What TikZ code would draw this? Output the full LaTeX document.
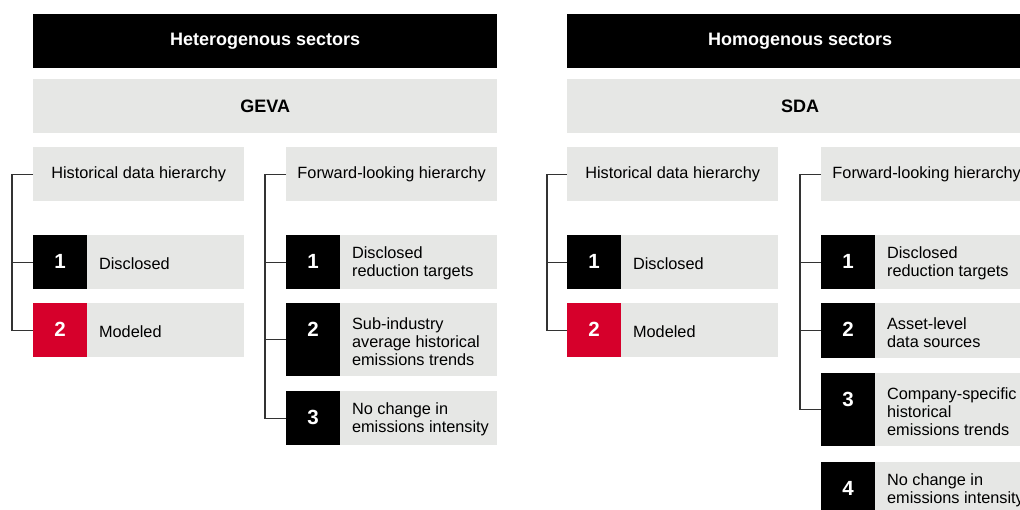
\documentclass[tikz,border=0pt]{standalone}
\usepackage{fontspec}
\setmainfont{Liberation Sans}
\definecolor{boxgray}{HTML}{E6E7E5}
\definecolor{numred}{HTML}{D6002B}
\definecolor{linegray}{HTML}{333333}
\newcommand\hitem[7]{% name, x, y, height, square colour, number, text
  \node[itembg, minimum height=#4pt] (#1) at (#2,#3) {};
  \node[numsq, fill=#5, minimum height=#4pt] (#1sq) at (#2,#3) {};
  \node[numtxt] (#1n) at (#2+27,#3+26.5) {#6};
  \node[lbl] (#1t) at ([xshift=11.5pt,yshift=-1.5pt]#1sq.east) {#7};
}
\begin{document}
\begin{tikzpicture}[x=1pt,y=-1pt,
  header/.style={fill=black, text=white, font=\fontsize{18}{21}\selectfont\bfseries,
    minimum width=464pt, minimum height=54pt, anchor=north west, inner sep=0pt},
  method/.style={fill=boxgray, text=black, font=\fontsize{18}{21}\selectfont\bfseries,
    minimum width=464pt, minimum height=54pt, anchor=north west, inner sep=0pt},
  hier/.style={fill=boxgray, font=\fontsize{16.3}{18}\selectfont,
    minimum width=211pt, minimum height=54pt, anchor=north west, inner sep=0pt},
  itembg/.style={fill=boxgray, minimum width=211pt, anchor=north west, inner sep=0pt},
  numsq/.style={minimum width=54pt, anchor=north west, inner sep=0pt},
  numtxt/.style={text=white, font=\fontsize{20.5}{24}\selectfont\bfseries, inner sep=0pt},
  lbl/.style={anchor=west, align=left, font=\fontsize{16.3}{18}\selectfont, inner sep=0pt},
  conn/.style={draw=linegray, line width=1.3pt}
]
\useasboundingbox (0,0) rectangle (1020,509);
\clip (0,0) rectangle (1020,509);

% ---------- left panel ----------
\node[header] (lhead) at (33,14) {Heterogenous sectors};
\node[method] (lmeth) at (33,79) {GEVA};
\node[hier] (lh) at (33,147) {Historical data hierarchy};
\node[hier] (lf) at (286,147) {Forward-looking hierarchy};

\hitem{lh1}{33}{235}{54}{black}{1}{Disclosed}
\hitem{lh2}{33}{303}{54}{numred}{2}{Modeled}

\hitem{lf1}{286}{235}{54}{black}{1}{Disclosed\\reduction targets}
\hitem{lf2}{286}{303}{73}{black}{2}{Sub-industry\\average historical\\emissions trends}
\hitem{lf3}{286}{391}{54}{black}{3}{No change in\\emissions intensity}

\draw[conn] (lh.west) -| ([xshift=-21pt]lh2.west) -- (lh2.west);
\draw[conn] ([xshift=-21pt]lh1.west) -- (lh1.west);
\draw[conn] (lf.west) -| ([xshift=-21pt]lf3.west) -- (lf3.west);
\draw[conn] ([xshift=-21pt]lf1.west) -- (lf1.west);
\draw[conn] ([xshift=-21pt]lf2.west) -- (lf2.west);

% ---------- right panel ----------
\node[header, minimum width=466pt] (rhead) at (567,14) {Homogenous sectors};
\node[method, minimum width=466pt] (rmeth) at (567,79) {SDA};
\node[hier] (rh) at (567,147) {Historical data hierarchy};
\node[hier] (rf) at (821,147) {Forward-looking hierarchy};

\hitem{rh1}{567}{235}{54}{black}{1}{Disclosed}
\hitem{rh2}{567}{303}{54}{numred}{2}{Modeled}

\hitem{rf1}{821}{235}{54}{black}{1}{Disclosed\\reduction targets}
\hitem{rf2}{821}{303}{55}{black}{2}{Asset-level\\data sources}
\hitem{rf3}{821}{373}{73}{black}{3}{Company-specific\\historical\\emissions trends}
\hitem{rf4}{821}{462}{54}{black}{4}{No change in\\emissions intensity}

\draw[conn] (rh.west) -| ([xshift=-20pt]rh2.west) -- (rh2.west);
\draw[conn] ([xshift=-20pt]rh1.west) -- (rh1.west);
\draw[conn] (rf.west) -| ([xshift=-21pt]rf3.west) -- (rf3.west);
\draw[conn] ([xshift=-21pt]rf1.west) -- (rf1.west);
\draw[conn] ([xshift=-21pt]rf2.west) -- (rf2.west);
\end{tikzpicture}
\end{document}
